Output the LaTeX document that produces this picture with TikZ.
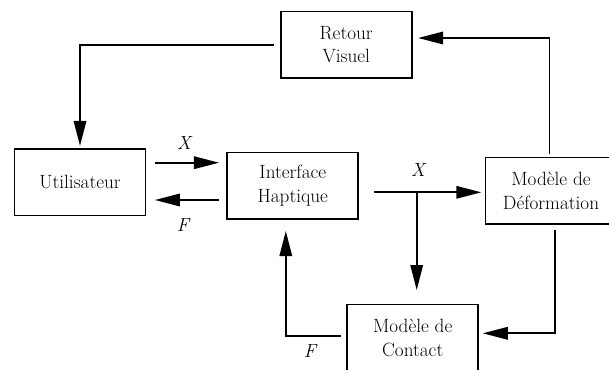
\documentclass[tikz,border=0pt]{standalone}
\usepackage{fontspec}
\usetikzlibrary{arrows.meta}
\begin{document}
\begin{tikzpicture}[x=1pt,y=-1pt,
  box/.style={draw, line width=1.7pt, minimum width=131pt, minimum height=66.5pt, inner sep=0pt, align=center, font=\fontsize{19.2}{23.5}\selectfont},
  arr/.style={line width=1.7pt, -{Triangle[length=25pt,width=12.5pt]}},
  lbl/.style={font=\fontsize{19}{22}\selectfont\itshape, inner sep=0pt}]
\useasboundingbox (0,0) rectangle (609,369);
% boxes
\node[box] (retour) at (346.2,44.7) {Retour\\Visuel};
\node[box] (util) at (80,182.3) {Utilisateur};
\node[box] (iface) at (292.8,185.7) {Interface\\Haptique};
\node[box] (def) at (551,190.7) {Modèle de\\Déformation};
\node[box] (contact) at (412.7,337.8) {Modèle de\\Contact};
% connectors
\draw[arr, shorten <=5.7pt, shorten >=2.3pt] (retour.west) -| (util.north);
\draw[arr, shorten <=2.3pt, shorten >=5.6pt] ([xshift=-1.5pt]def.north) |- ([yshift=6.7pt]retour.east);
\draw[arr, shorten <=8.5pt, shorten >=7.5pt] ([yshift=19.6pt]util.east) -- ([yshift=23pt]iface.west);
\draw[arr, shorten <=7.3pt, shorten >=8.5pt] ([yshift=-14.3pt]iface.west) -- ([yshift=-17.7pt]util.east);
\draw[arr, shorten <=14.7pt, shorten >=3.4pt] ([yshift=-6.6pt]iface.east) -- ([yshift=-1.6pt]def.west);
\coordinate (branch) at (416.7,192.3);
\draw[arr, shorten >=13.7pt] (branch) -- (branch |- contact.north);
\draw[arr, shorten <=5.3pt, shorten >=3.7pt] ([xshift=4pt]def.south) |- ([yshift=4.5pt]contact.east);
\draw[arr, shorten <=5.6pt, shorten >=11.3pt] ([yshift=1.5pt]contact.west) -| ([xshift=-7pt]iface.south);
% labels
\node[lbl] (lx1) at (184,143) {X};
\node[lbl] (lf1) at (183,225) {F};
\node[lbl] (lx2) at (418,170) {X};
\node[lbl] (lf2) at (310,351) {F};
\end{tikzpicture}
\end{document}
